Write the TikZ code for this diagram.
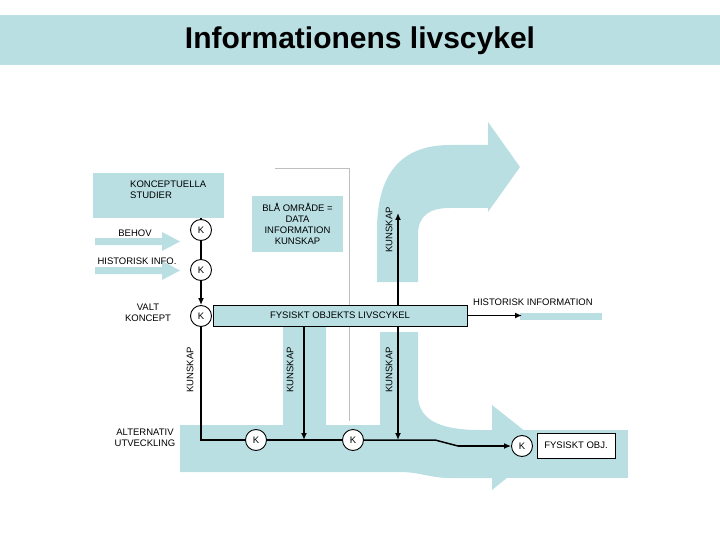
\documentclass[tikz,border=0pt]{standalone}
\usepackage{fontspec}
\setmainfont{Liberation Sans}
\usetikzlibrary{arrows.meta}
\definecolor{lb}{HTML}{B9DFE3}
\begin{document}
\begin{tikzpicture}[x=1pt,y=-1pt,
 txt/.style={font=\fontsize{9.5}{11}\selectfont,align=center,inner sep=1pt},
 kc/.style={circle,draw,line width=0.9pt,minimum size=21pt,inner sep=0pt,fill=white,font=\fontsize{9.5}{11}\selectfont},
 box/.style={draw,line width=0.8pt,fill=lb,font=\fontsize{9.5}{11}\selectfont,inner sep=0pt},
 bar/.style={draw,line width=1.5pt},
 arr/.style={draw,line width=1.5pt,-{Latex[length=7pt,width=6pt]}},
 rot/.style={txt,rotate=90}]
\useasboundingbox (0,0) rectangle (720,540);
% title
\fill[lb] (0,15) rectangle (720,65);
\node[font=\bfseries\fontsize{30}{34}\selectfont] (title) at (360,41) {Informationens livscykel};
% big blue shapes
\fill[lb] (377,282) -- (377,230) .. controls (377,175) and (400,145) .. (450,145) -- (488,145) -- (488,122) -- (520,167) -- (488,212) -- (488,208) -- (450,208) .. controls (430,208) and (418,215) .. (418,235) -- (418,282) -- cycle;
\fill[lb] (180,425) -- (283,425) -- (283,327) -- (326,327) -- (326,425) -- (380,425) -- (380,332) -- (418,332) -- (418,395) .. controls (418,420) and (440,430) .. (480,430) -- (492,430) -- (492,478) -- (450,478) .. controls (430,478) and (420,472) .. (400,472) -- (180,472) -- cycle;
\fill[lb] (492,430) rectangle (628,478);
\fill[lb] (492,405) -- (545,447) -- (492,490) -- cycle;
% small blue arrows
\fill[lb] (95,238) -- (162,238) -- (162,232) -- (180,241.5) -- (162,251) -- (162,245) -- (95,245) -- cycle;
\fill[lb] (95,267) -- (162,267) -- (162,261) -- (180,270.5) -- (162,280) -- (162,274) -- (95,274) -- cycle;
\fill[lb] (520,313) rectangle (602,320);
% thin grey lines
\draw[gray!50] (275,168) -- (349,168) -- (349,421);
% boxes
\fill[lb] (93,173) rectangle (224,218);
\node[txt,align=left,anchor=north west] (konc) at (129,180) {KONCEPTUELLA\\STUDIER};
\node[box,draw=none,minimum width=91pt,minimum height=56pt] (bla) at (297.5,224) {};
\node[txt] (blat) at (297.5,224) {BLÅ OMRÅDE =\\DATA\\INFORMATION\\KUNSKAP};
\node[box,minimum width=254pt,minimum height=21pt] (fol) at (340,315.5) {FYSISKT OBJEKTS LIVSCYKEL};
\node[box,fill=white,minimum width=78pt,minimum height=25pt] (fobj) at (576,445.5) {FYSISKT OBJ.};
% labels
\node[txt] (behov) at (135,233) {BEHOV};
\node[txt] (hinfo) at (137,261) {HISTORISK INFO.};
\node[txt] (valt) at (148,313) {VALT\\KONCEPT};
\node[txt] (alt) at (145,438) {ALTERNATIV\\UTVECKLING};
\node[txt,anchor=west] (hinf) at (472,302) {HISTORISK INFORMATION};
% K nodes
\node[kc] (k1) at (201,230) {K};
\node[kc] (k2) at (201,270) {K};
\node[kc] (k3) at (201,316) {K};
\node[kc] (k4) at (256,440) {K};
\node[kc] (k5) at (353,440) {K};
\node[kc] (k6) at (522,446) {K};
% connectors
\coordinate (ktop) at (201,218);
\coordinate (corner) at (201,440);
\coordinate (bend1) at (435,440);
\coordinate (bend2) at (458,446);
\coordinate (up) at (398,213);
\coordinate (d1) at (304,440);
\coordinate (d2) at (398,440);
\coordinate (hend) at (522,315.5);
\draw[bar] (ktop) -- (k1);
\draw[bar] (k1) -- (k2);
\draw[arr] (k2) -- (k3);
\draw[bar] (k3) -- (corner) -- (k4);
\draw[bar] (k4) -- (k5);
\draw[bar] (k5) -- (bend1) -- (bend2);
\draw[arr] (bend2) -- (k6);
\draw[arr] (398,305) -- (up);
\draw[arr] (304,326) -- (d1);
\draw[arr] (398,326) -- (d2);
\draw[arr] (fol.east) -- (hend);
\node[rot] (ku1) at (389,230) {KUNSKAP};
\node[rot] (ku2) at (190,370) {KUNSKAP};
\node[rot] (ku3) at (290,370) {KUNSKAP};
\node[rot] (ku4) at (389,370) {KUNSKAP};
\end{tikzpicture}
\end{document}
